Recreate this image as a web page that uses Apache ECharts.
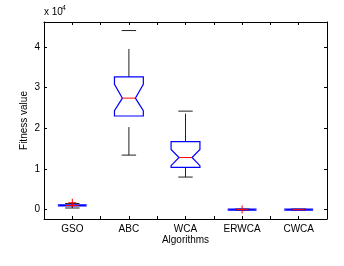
<!DOCTYPE html>
<html>
<head>
<meta charset="utf-8">
<script src="https://cdn.jsdelivr.net/npm/echarts@6/dist/echarts.min.js"></script>
<style>
html,body{margin:0;padding:0;background:#fff;}
#c{width:344px;height:266px;}
</style>
</head>
<body>
<div id="c"></div>
<script>
var categories = ['GSO', 'ABC', 'WCA', 'ERWCA', 'CWCA'];
var whiskerLow  = [400, 13400, 8000, -100, -100];
var q1          = [900, 23000, 10400, -100, -100];
var notchLow    = [900, 24300, 10800, -100, -100];
var median      = [1000, 27400, 12800, 0, 0];
var notchHigh   = [1150, 30800, 14800, 150, 150];
var q3          = [1150, 32600, 16700, 150, 150];
var whiskerHigh = [1500, 44000, 24200, 150, 150];
var outlierCat  = [1, 4];
var outlierVal  = [1700, 50];
var yTicks = [0, 10000, 20000, 30000, 40000];

var boxData = categories.map(function (c, i) {
  return [i + 1, whiskerLow[i], q1[i], notchLow[i], median[i], notchHigh[i], q3[i], whiskerHigh[i]];
});
var outData = outlierCat.map(function (c, i) { return [c, outlierVal[i]]; });

var FONT = 'Liberation Sans, Arial, sans-serif';
var chart = echarts.init(document.getElementById('c'), null, {renderer: 'canvas'});

function xLabel(v) {
  var r = Math.round(v);
  if (Math.abs(v - r) < 1e-6 && r >= 1 && r <= categories.length) return categories[r - 1];
  return '';
}

var axisLineStyle = {color: '#000', width: 1};
var option = {
  backgroundColor: '#fff',
  animation: false,
  grid: {left: 44, right: 17, top: 22, bottom: 47},
  xAxis: [{
    type: 'value', position: 'bottom', min: 0.5, max: 5.5, interval: 0.5,
    name: 'Algorithms', nameLocation: 'middle', nameGap: 16, nameMoveOverlap: false,
    nameTextStyle: {color: '#000', fontSize: 10, fontFamily: FONT},
    axisLine: {show: true, onZero: false, lineStyle: axisLineStyle},
    axisTick: {show: true, inside: true, length: 3, lineStyle: axisLineStyle},
    axisLabel: {show: true, margin: 5, color: '#000', fontSize: 10, fontFamily: FONT, formatter: xLabel, showMinLabel: true, showMaxLabel: true},
    splitLine: {show: false}
  }, {
    type: 'value', position: 'top', min: 0.5, max: 5.5, interval: 0.5,
    axisLine: {show: true, onZero: false, lineStyle: axisLineStyle},
    axisTick: {show: true, inside: true, length: 3, lineStyle: axisLineStyle},
    axisLabel: {show: false},
    splitLine: {show: false}
  }],
  yAxis: [{
    type: 'value', position: 'left', min: -2300, max: 46100,
    name: 'Fitness value', nameLocation: 'middle', nameGap: 15, nameMoveOverlap: false,
    nameTextStyle: {color: '#000', fontSize: 10, fontFamily: FONT},
    axisLine: {show: true, onZero: false, lineStyle: axisLineStyle},
    axisTick: {show: true, inside: true, length: 3, lineStyle: axisLineStyle, customValues: yTicks},
    axisLabel: {show: true, margin: 4, color: '#000', fontSize: 10, fontFamily: FONT, customValues: yTicks,
      formatter: function (v) { return String(Math.round(v / 10000)); }},
    splitLine: {show: false}
  }, {
    type: 'value', position: 'right', min: -2300, max: 46100,
    axisLine: {show: true, onZero: false, lineStyle: axisLineStyle},
    axisTick: {show: true, inside: true, length: 3, lineStyle: axisLineStyle, customValues: yTicks},
    axisLabel: {show: false},
    splitLine: {show: false}
  }],
  graphic: [
    {type: 'text', left: 44, top: 7, style: {text: 'x 10', fill: '#000', font: '10px ' + FONT}},
    {type: 'text', left: 62, top: 5, style: {text: '4', fill: '#000', font: '7px ' + FONT}}
  ],
  series: [{
    type: 'custom',
    xAxisIndex: 0, yAxisIndex: 0,
    data: boxData,
    encode: {x: 0, y: [1, 2, 3, 4, 5, 6, 7]},
    renderItem: function (params, api) {
      var x = api.value(0);
      var lo = api.value(1), b1 = api.value(2), nlo = api.value(3), med = api.value(4),
          nhi = api.value(5), b3 = api.value(6), hi = api.value(7);
      var cx = api.coord([x, med])[0];
      var half = api.coord([x + 0.5, 0])[0] - cx;
      var hw = half * 0.51, nw = hw * 0.45, cw = hw * 0.5;
      function Y(v) { return api.coord([x, v])[1]; }
      var blk = {stroke: '#222', lineWidth: 1, fill: null};
      var dash = {stroke: '#222', lineWidth: 1, fill: null, lineDash: [28, 18]};
      return {
        type: 'group',
        children: [
          {type: 'line', shape: {x1: cx, y1: Y(b3), x2: cx, y2: Y(hi)}, style: dash},
          {type: 'line', shape: {x1: cx, y1: Y(lo), x2: cx, y2: Y(b1)}, style: dash},
          {type: 'line', shape: {x1: cx - cw, y1: Y(hi), x2: cx + cw, y2: Y(hi)}, style: blk},
          {type: 'line', shape: {x1: cx - cw, y1: Y(lo), x2: cx + cw, y2: Y(lo)}, style: blk},
          {type: 'polygon', shape: {points: [
            [cx - hw, Y(b3)], [cx + hw, Y(b3)], [cx + hw, Y(nhi)], [cx + nw, Y(med)],
            [cx + hw, Y(nlo)], [cx + hw, Y(b1)], [cx - hw, Y(b1)], [cx - hw, Y(nlo)],
            [cx - nw, Y(med)], [cx - hw, Y(nhi)]
          ]}, style: {stroke: '#0000ff', lineWidth: 1.2, fill: null}},
          {type: 'line', shape: {x1: cx - nw, y1: Y(med), x2: cx + nw, y2: Y(med)}, style: {stroke: '#ff0000', lineWidth: 1}}
        ]
      };
    }
  }, {
    type: 'custom',
    xAxisIndex: 0, yAxisIndex: 0,
    data: outData,
    encode: {x: 0, y: 1},
    renderItem: function (params, api) {
      var p = api.coord([api.value(0), api.value(1)]);
      var s = 4;
      var st = {stroke: '#ff0000', lineWidth: 1};
      return {type: 'group', children: [
        {type: 'line', shape: {x1: p[0] - s, y1: p[1], x2: p[0] + s, y2: p[1]}, style: st},
        {type: 'line', shape: {x1: p[0], y1: p[1] - s, x2: p[0], y2: p[1] + s}, style: st}
      ]};
    }
  }]
};
chart.setOption(option);
</script>
</body>
</html>
